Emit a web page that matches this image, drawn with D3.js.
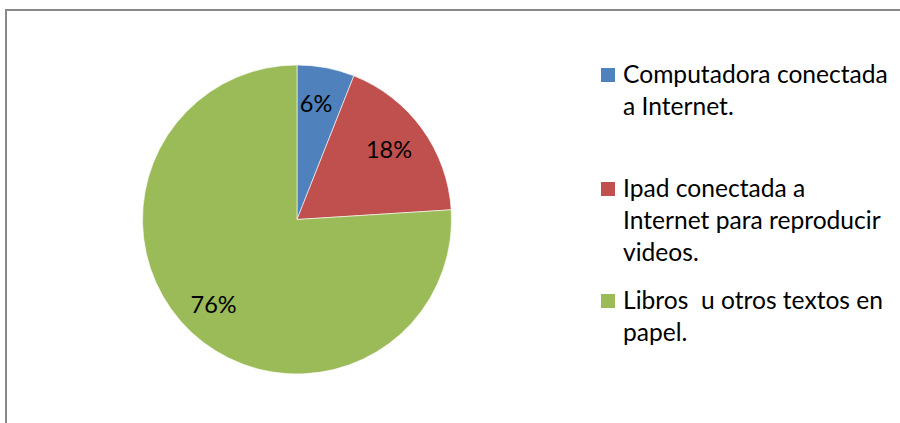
<!DOCTYPE html>
<html>
<head>
<meta charset="utf-8">
<script src="https://cdn.jsdelivr.net/npm/d3@7"></script>
<style>
  html, body { margin: 0; padding: 0; background: #fff; }
  svg { display: block; }
  text { font-family: Lato, "Open Sans", sans-serif; fill: #000; }
</style>
</head>
<body>
<svg id="chart" width="900" height="423"></svg>
<script>
// Recursos utilizados (porcentaje)
const categories = [
  "Computadora conectada a Internet.",
  "Ipad conectada a Internet para reproducir videos.",
  "Libros  u otros textos en papel."
];
const values = [6, 18, 76];
const colors = ["#4F81BD", "#C0504D", "#9BBB59"];
// Line breaks used in the legend
const legendLines = [
  ["Computadora conectada", "a Internet."],
  ["Ipad conectada a", "Internet para reproducir", "videos."],
  ["Libros  u otros textos en", "papel."]
];

const svg = d3.select("#chart");

// Chart-area frame
svg.append("rect")
  .attr("x", 6).attr("y", 10)
  .attr("width", 900).attr("height", 430)
  .attr("fill", "#fff")
  .attr("stroke", "#898989")
  .attr("stroke-width", 2);

const cx = 297, cy = 219.5, r = 154.5;

const pie = d3.pie().sort(null).value(d => d)(values);
const arc = d3.arc().innerRadius(0).outerRadius(r);
const labelArc = d3.arc().innerRadius(r * 0.76).outerRadius(r * 0.76);

const g = svg.append("g").attr("transform", `translate(${cx},${cy})`);

g.selectAll("path.slice")
  .data(pie)
  .join("path")
  .attr("class", "slice")
  .attr("d", arc)
  .attr("fill", (d, i) => colors[i])
  .attr("stroke", "#fff")
  .attr("stroke-width", 0.6);

g.selectAll("text.pct")
  .data(pie)
  .join("text")
  .attr("class", "pct")
  .attr("transform", d => {
    const [x, y] = labelArc.centroid(d);
    return `translate(${x - 3},${y})`;
  })
  .attr("text-anchor", "middle")
  .attr("dy", "0.33em")
  .style("font-size", "23.5px")
  .text(d => d.data + "%");

// Legend
const legendX = 601, textX = 623, lineH = 32;
const itemTop = [68, 182, 294];
const legend = svg.append("g");
categories.forEach((c, i) => {
  const item = legend.append("g");
  item.append("rect")
    .attr("x", legendX).attr("y", itemTop[i])
    .attr("width", 14).attr("height", 14)
    .attr("fill", colors[i]);
  const t = item.append("text")
    .attr("x", textX)
    .attr("y", itemTop[i] + 15)
    .style("font-size", "24.6px");
  legendLines[i].forEach((ln, j) => {
    t.append("tspan")
      .attr("x", textX)
      .attr("dy", j === 0 ? 0 : lineH)
      .attr("xml:space", "preserve")
      .style("white-space", "pre")
      .text(ln);
  });
});
</script>
</body>
</html>
